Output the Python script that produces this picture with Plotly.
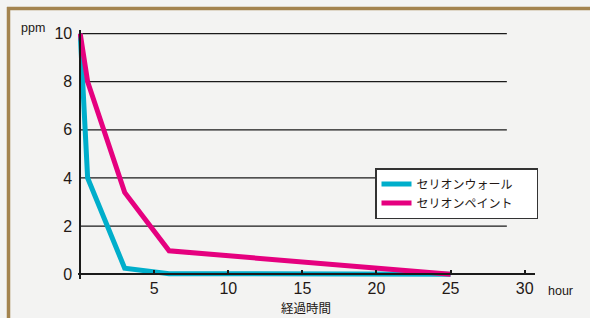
import plotly.graph_objects as go

# ---- data ----
hours_wall = [0, 0.5, 3, 6, 25]
ppm_wall = [10, 4, 0.25, 0.02, 0]
hours_paint = [0, 0.5, 3, 6, 25]
ppm_paint = [10, 8, 3.4, 0.97, 0]
series_names = ["セリオンウォール", "セリオンペイント"]
x_ticks = [5, 10, 15, 20, 25, 30]
y_ticks = [0, 2, 4, 6, 8, 10]
grid_levels = [2, 4, 6, 8, 10]
x_label = "経過時間"
x_unit = "hour"
y_unit = "ppm"

W, H = 590, 318
ML, MR, MT, MB = 78, 55, 30, 39
XR = [-0.15, 30.7]
YR = [-0.2, 10.15]
pw = W - ML - MR
ph = H - MT - MB

def px2x(px):
    return (px - ML) / pw

def py2y(py):
    return (H - MB - py) / ph

x0pos = (0 - XR[0]) / (XR[1] - XR[0])
y0pos = (0 - YR[0]) / (YR[1] - YR[0])

CYAN = "#00AECB"
MAG = "#E5007F"
INK = "#231815"
FONT = "Liberation Sans, Arial, sans-serif"
JFONT = "Noto Sans CJK JP, sans-serif"
PAD = "\u3000\u2002"  # invisible trailing padding to widen the legend box

fig = go.Figure()
fig.add_trace(go.Scatter(x=hours_wall, y=ppm_wall, mode="lines", name=series_names[0] + PAD,
                         line=dict(color=CYAN, width=5)))
fig.add_trace(go.Scatter(x=hours_paint, y=ppm_paint, mode="lines", name=series_names[1] + PAD,
                         line=dict(color=MAG, width=5)))

shapes = []
for g in grid_levels:
    shapes.append(dict(type="line", xref="x", yref="y", x0=0, x1=28.8, y0=g, y1=g,
                       line=dict(color="#1a1a1a", width=1.3), layer="below"))
# brown frame
BROWN = "#A3834E"
shapes.append(dict(type="line", xref="paper", yref="paper", x0=px2x(7), x1=px2x(600),
                   y0=py2y(8.5), y1=py2y(8.5), line=dict(color=BROWN, width=3.5)))
shapes.append(dict(type="line", xref="paper", yref="paper", x0=px2x(8.5), x1=px2x(8.5),
                   y0=py2y(7), y1=py2y(330), line=dict(color=BROWN, width=3.5)))

def ann(text, px, py, font):
    return dict(text=text, xref="paper", yref="paper", x=px2x(px), y=py2y(py),
                xanchor="center", yanchor="middle", showarrow=False, font=font)

fig.update_layout(
    width=W, height=H,
    margin=dict(l=ML, r=MR, t=MT, b=MB),
    paper_bgcolor="#F3F3F2",
    plot_bgcolor="rgba(0,0,0,0)",
    font=dict(family=FONT, color=INK),
    shapes=shapes,
    showlegend=True,
    legend=dict(x=px2x(375), y=py2y(168), xanchor="left", yanchor="top",
                bgcolor="#FFFFFF", bordercolor="#333333", borderwidth=1.5,
                font=dict(family=JFONT, size=12, color=INK),
                tracegroupgap=0, itemwidth=30),
    xaxis=dict(range=XR, showgrid=False, zeroline=False, showline=True, linecolor="#1a1a1a",
               linewidth=1.5, anchor="free", position=y0pos,
               tickvals=x_ticks, ticktext=[str(v) for v in x_ticks],
               ticks="inside", ticklen=3, tickwidth=1.5, tickcolor="#1a1a1a",
               tickfont=dict(size=16, color=INK, family=FONT)),
    yaxis=dict(range=YR, showgrid=False, zeroline=False, showline=True, linecolor="#1a1a1a",
               linewidth=1.5, anchor="free", position=x0pos,
               tickvals=y_ticks, ticktext=[str(v) for v in y_ticks], ticks="",
               ticklabelstandoff=4,
               tickfont=dict(size=16, color=INK, family=FONT)),
    annotations=[
        ann(y_unit, 33, 28, dict(size=12.5, family=FONT, color=INK)),
        ann(x_unit, 560, 291, dict(size=12.5, family=FONT, color=INK)),
        ann(x_label, 306, 307, dict(size=12.5, family=JFONT, color=INK)),
    ],
)

fig.write_html("out.html", config={"displayModeBar": False},
               post_script="document.body.style.margin='0';")
